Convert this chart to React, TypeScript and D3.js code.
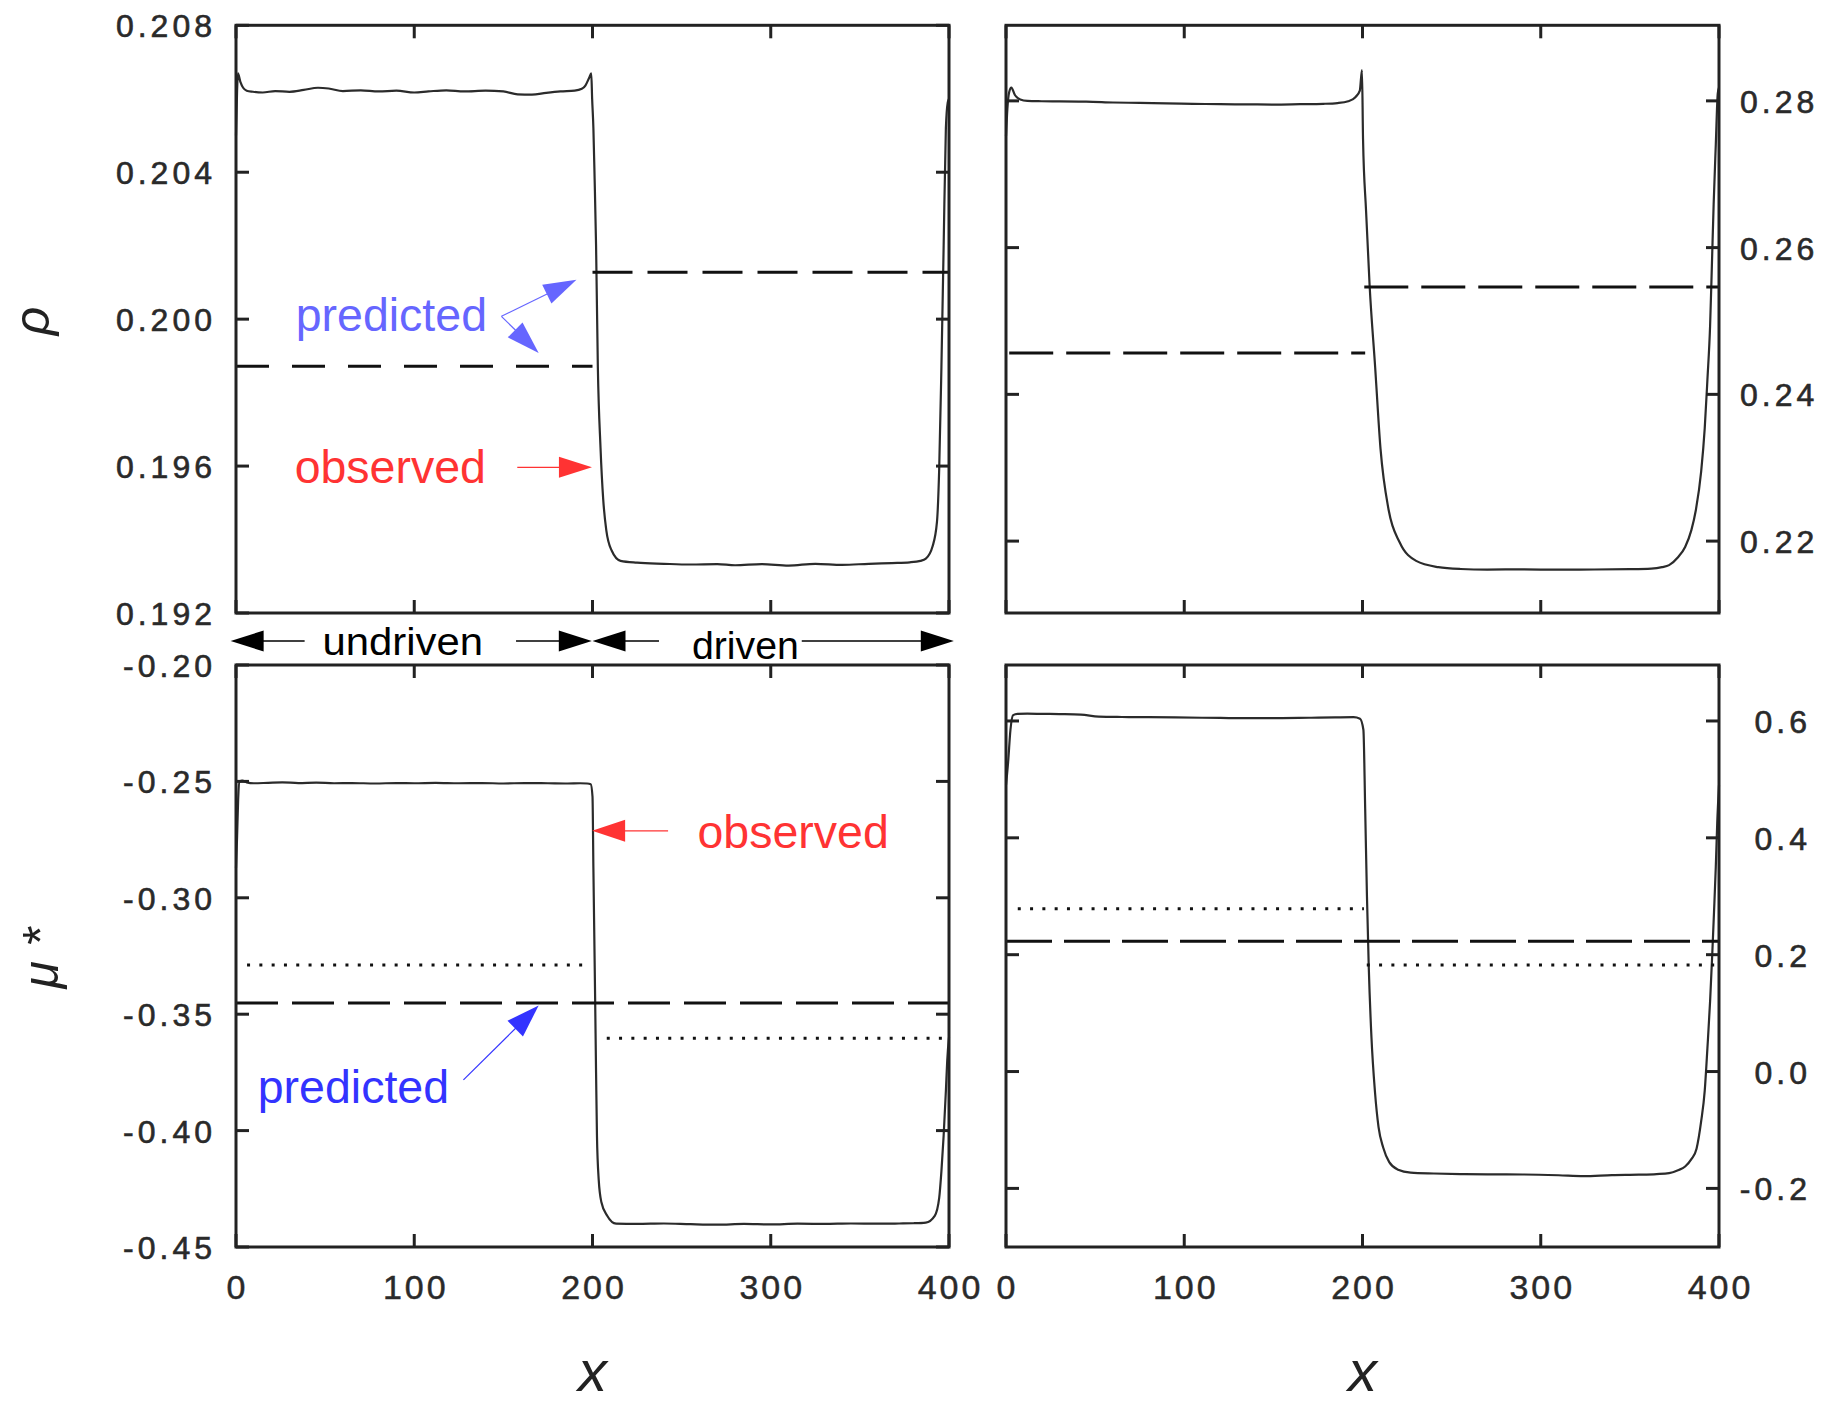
import React from "react";
import * as d3 from "d3";

type Pt = [number, number];
type Seg = [number, number, number]; // x0, x1, value

// ---------- axes / ticks ----------
const xTicks = [0, 100, 200, 300, 400];
const rhoLeftTicks = [0.192, 0.196, 0.2, 0.204, 0.208];
const rhoRightTicks = [0.22, 0.24, 0.26, 0.28];
const muLeftTicks = [-0.45, -0.4, -0.35, -0.3, -0.25, -0.2];
const muRightTicks = [-0.2, 0.0, 0.2, 0.4, 0.6];

const xDomain: Pt = [0, 400];
const rhoLeftDomain: Pt = [0.192, 0.208];
const rhoRightDomain: Pt = [0.2102, 0.2903];
const muLeftDomain: Pt = [-0.45, -0.2];
const muRightDomain: Pt = [-0.3003, 0.6958];

// ---------- observed profiles ----------
const rhoLeftObserved: Pt[] = [
  [0, 0.205], [0.6, 0.2062], [1.1, 0.20669], [2.5, 0.20645], [4, 0.2063], [6, 0.20622], [9.5, 0.20619],
  [15, 0.20617], [22, 0.20621], [30, 0.20619], [38, 0.20624], [46, 0.2063], [52, 0.20628], [60, 0.20621],
  [70, 0.20623], [80, 0.2062], [90, 0.20622], [100, 0.20617], [108, 0.2062], [118, 0.20623], [128, 0.2062],
  [140, 0.20622], [150, 0.2062], [158, 0.20612], [166, 0.20611], [174, 0.20616], [182, 0.2062], [190, 0.20622],
  [194, 0.20627], [196, 0.20636], [198.2, 0.20658], [199.3, 0.20669], [199.8, 0.206], [200.5, 0.2052],
  [201.2, 0.2038], [202, 0.202], [203, 0.1987], [204.5, 0.1965], [206, 0.1951], [207.75, 0.19425],
  [210.75, 0.1937], [215.75, 0.19342], [225, 0.19337], [240, 0.19334], [255, 0.19332], [270, 0.19333],
  [280, 0.1933], [295, 0.19333], [310, 0.19329], [325, 0.19334], [340, 0.19331], [355, 0.19334],
  [368, 0.19336], [378, 0.19338], [384, 0.19342], [387, 0.19348], [390.75, 0.19381], [393.25, 0.19448],
  [394.5, 0.19592], [395.75, 0.1987], [397, 0.202], [398.25, 0.2052], [399.3, 0.2059], [400, 0.206],
];

const rhoRightObserved: Pt[] = [
  [0, 0.2752], [0.8, 0.279], [1.8, 0.2812], [3, 0.2818], [5, 0.2808], [8, 0.2802], [12, 0.28],
  [20, 0.27995], [30, 0.27992], [45, 0.2799], [60, 0.27978], [75, 0.27972], [90, 0.27965], [105, 0.2796],
  [120, 0.27955], [135, 0.27952], [150, 0.2795], [165, 0.27955], [178, 0.2796], [186, 0.2797],
  [192, 0.27995], [196, 0.2805], [198.5, 0.2814], [199.7, 0.2842], [200.3, 0.2748], [202, 0.265],
  [204, 0.2548], [207.1, 0.2437], [210.1, 0.2326], [214.7, 0.2242], [220.9, 0.2198], [230.1, 0.2173],
  [242.5, 0.21645], [255, 0.2162], [270, 0.21612], [290, 0.21615], [310, 0.2161], [330, 0.21613],
  [350, 0.21617], [362, 0.21625], [368, 0.21645], [372, 0.21673], [377, 0.2178], [381, 0.2192],
  [384.5, 0.2215], [387, 0.2242], [390, 0.2295], [392, 0.2354], [393.5, 0.242], [395, 0.2493],
  [396, 0.2575], [397, 0.2659], [398.2, 0.274], [399.3, 0.281], [400, 0.2818],
];

const muLeftObserved: Pt[] = [
  [0, -0.2872], [0.6, -0.274], [1.2, -0.258], [2, -0.25], [3.5, -0.2497], [6, -0.2504], [10, -0.2508],
  [18, -0.2506], [26, -0.2504], [35, -0.2507], [45, -0.2505], [55, -0.2508], [65, -0.2507], [78, -0.2509],
  [90, -0.2507], [100, -0.2508], [112, -0.2506], [125, -0.2508], [138, -0.2507], [150, -0.2509],
  [162, -0.2507], [175, -0.2508], [186, -0.2509], [193, -0.2508], [197, -0.2509], [199, -0.2512],
  [200, -0.2565], [200.5, -0.2872], [201, -0.3159], [201.5, -0.3446], [202, -0.375], [202.5, -0.4021],
  [203.5, -0.4213], [205, -0.4308], [208.25, -0.4366], [213.25, -0.44], [225, -0.4401], [240, -0.4399],
  [255, -0.4402], [270, -0.4404], [285, -0.4401], [300, -0.4403], [315, -0.44], [330, -0.4401],
  [345, -0.4399], [360, -0.44], [372, -0.4399], [380, -0.4398], [387, -0.4395], [392, -0.4366],
  [394.5, -0.4289], [395.75, -0.4174], [397, -0.4021], [398.25, -0.383], [399, -0.37], [400, -0.36],
];

const muRightObserved: Pt[] = [
  [0, 0.49], [1.2, 0.53], [2.5, 0.585], [4, 0.61], [6.5, 0.6122], [12, 0.6125], [20, 0.6122], [30, 0.6118],
  [42, 0.611], [52, 0.6075], [65, 0.6068], [80, 0.6065], [95, 0.606], [110, 0.6055], [125, 0.605],
  [140, 0.6048], [155, 0.605], [170, 0.6055], [185, 0.6062], [195, 0.6065], [198.6, 0.604], [200.5, 0.585],
  [201.5, 0.45], [202.5, 0.3], [203.5, 0.18], [205, 0.06], [207, -0.035], [209, -0.095], [211.6, -0.13],
  [215, -0.155], [220, -0.168], [227, -0.173], [240, -0.1745], [255, -0.1755], [270, -0.176],
  [290, -0.1762], [310, -0.1775], [324, -0.179], [340, -0.1772], [355, -0.1765], [365, -0.1755],
  [372, -0.174], [377, -0.169], [381, -0.1626], [384.5, -0.15], [387.4, -0.132], [390, -0.085],
  [392, -0.0328], [393.5, 0.04], [395, 0.12], [396.2, 0.2], [397.2, 0.2725], [398.2, 0.35], [399, 0.425],
  [400, 0.49],
];

// ---------- predicted (dashed) and dotted levels ----------
const rhoLeftPredicted: Seg[] = [[0, 200, 0.19872], [200, 400, 0.20128]];
const rhoRightPredicted: Seg[] = [[1.8, 201.5, 0.24564], [201, 400, 0.25464]];
const muLeftPredicted: Seg[] = [[0, 400, -0.3452]];
const muLeftDotted: Seg[] = [[6.2, 198, -0.3289], [208, 398.3, -0.3603]];
const muRightPredicted: Seg[] = [[0, 400, 0.2229]];
const muRightDotted: Seg[] = [[6.6, 200.8, 0.2786], [202.4, 398, 0.1824]];

// ---------- annotations (in data units of their panel) ----------
const rhoTexts = [
  { text: "predicted", color: "#6666ff", x: 33.5, v: 0.19969 },
  { text: "observed", color: "#ff3333", x: 32.9, v: 0.19554 },
];
const rhoArrows = [
  { color: "#6666ff", from: [148.9, 0.200077] as Pt, to: [191.0, 0.201076] as Pt },
  { color: "#6666ff", from: [148.9, 0.200077] as Pt, to: [169.8, 0.199078] as Pt },
  { color: "#ff3333", from: [157.8, 0.195967] as Pt, to: [199.7, 0.195967] as Pt },
];
const muTexts = [
  { text: "predicted", color: "#3333ff", x: 12.2, v: -0.38814 },
  { text: "observed", color: "#ff3333", x: 258.9, v: -0.27852 },
];
const muArrows = [
  { color: "#3333ff", from: [127.6, -0.37822] as Pt, to: [169.8, -0.34622] as Pt },
  { color: "#ff3333", from: [242.4, -0.27122] as Pt, to: [199.8, -0.27122] as Pt },
];
const regionLabels = [
  { text: "undriven", x0: 48.5, x1: 138.6, base: 655 },
  { text: "driven", x0: 255.8, x1: 315.8, base: 659 },
];
const regionArrows: Pt[] = [[38.5, -3.0], [157.1, 199.6], [237.3, 200], [317.4, 402.7]];

// ---------- layout ----------
const W = 1822;
const H = 1403;
const LEFT: Pt = [236, 949];
const RIGHT: Pt = [1006, 1719];
const TOP: Pt = [25.3, 613];
const BOTTOM: Pt = [665, 1247];

const FONT = "'Liberation Sans', Arial, Helvetica, sans-serif";
const fmt = (p: string) => (v: number) => d3.format(p)(v).replace("\u2212", "-");

function Arrow({ x1, y1, x2, y2, color, lw, hl, hw }: any) {
  const dx = x2 - x1, dy = y2 - y1;
  const L = Math.hypot(dx, dy);
  const ux = dx / L, uy = dy / L;
  const bx = x2 - ux * hl, by = y2 - uy * hl;
  const px = -uy, py = ux;
  const pts = [
    [x2, y2],
    [bx + (px * hw) / 2, by + (py * hw) / 2],
    [bx - (px * hw) / 2, by - (py * hw) / 2],
  ];
  return (
    <g>
      <line x1={x1} y1={y1} x2={bx + ux * 2} y2={by + uy * 2} stroke={color} strokeWidth={lw} />
      <polygon points={pts.map((p) => p.join(",")).join(" ")} fill={color} />
    </g>
  );
}

function Panel({ px, py, yDomain, yTicks, format, side, labelAnchor, labelOffset, observed, dashed, dashPattern, dotted, showX }: any) {
  const x = d3.scaleLinear().domain(xDomain).range(px);
  const y = d3.scaleLinear().domain(yDomain).range([py[1], py[0]]);
  const line = d3.line<Pt>().x((d) => x(d[0])).y((d) => y(d[1])).curve(d3.curveMonotoneX);
  const TL = 13;
  return (
    <g>
      <path d={line(observed) || ""} fill="none" stroke="#2b2b2b" strokeWidth={2.2} strokeLinejoin="round" />
      {(dashed as Seg[]).map((s, i) => (
        <line key={"d" + i} x1={x(s[0])} x2={x(s[1])} y1={y(s[2])} y2={y(s[2])} stroke="#111" strokeWidth={3}
          strokeDasharray={dashPattern[i] || dashPattern[0]} />
      ))}
      {((dotted || []) as Seg[]).map((s, i) => (
        <line key={"p" + i} x1={x(s[0])} x2={x(s[1])} y1={y(s[2])} y2={y(s[2])} stroke="#111" strokeWidth={3}
          strokeDasharray="3 9.3" />
      ))}
      <rect x={px[0]} y={py[0]} width={px[1] - px[0]} height={py[1] - py[0]} fill="none" stroke="#222" strokeWidth={3} />
      {xTicks.map((t) => (
        <g key={"xt" + t}>
          <line x1={x(t)} x2={x(t)} y1={py[1]} y2={py[1] - TL} stroke="#222" strokeWidth={3} />
          <line x1={x(t)} x2={x(t)} y1={py[0]} y2={py[0] + TL} stroke="#222" strokeWidth={3} />
        </g>
      ))}
      {(yTicks as number[]).map((t) => (
        <g key={"yt" + t}>
          <line x1={px[0]} x2={px[0] + TL} y1={y(t)} y2={y(t)} stroke="#222" strokeWidth={3} />
          <line x1={px[1]} x2={px[1] - TL} y1={y(t)} y2={y(t)} stroke="#222" strokeWidth={3} />
          <text
            x={side === "left" ? px[0] - labelOffset : px[1] + labelOffset}
            y={y(t) + 12}
            textAnchor={labelAnchor}
            fontFamily={FONT}
            fontSize={32}
            letterSpacing={4}
            fill="#2a2a2a"
            stroke="#2a2a2a"
            strokeWidth={0.6}
          >
            {format(t)}
          </text>
        </g>
      ))}
      {showX &&
        xTicks.map((t) => (
          <text key={"xl" + t} x={x(t) + 1.5} y={py[1] + 52} textAnchor="middle" fontFamily={FONT} fontSize={34}
            letterSpacing={3} fill="#2a2a2a" stroke="#2a2a2a" strokeWidth={0.5}>
            {String(t)}
          </text>
        ))}
      {showX && (
        <text x={x(200)} y={1391} textAnchor="middle" fontFamily={FONT} fontStyle="italic" fontSize={58} fill="#222">
          x
        </text>
      )}
    </g>
  );
}

export default function App() {
  const xL = d3.scaleLinear().domain(xDomain).range(LEFT);
  const yTL = d3.scaleLinear().domain(rhoLeftDomain).range([TOP[1], TOP[0]]);
  const yBL = d3.scaleLinear().domain(muLeftDomain).range([BOTTOM[1], BOTTOM[0]]);
  const rowY = 641;
  return (
    <svg width={W} height={H} style={{ position: "absolute", left: 0, top: 0, background: "#fff" }}>
      <rect width={W} height={H} fill="#fff" />
      <Panel px={LEFT} py={TOP} yDomain={rhoLeftDomain} yTicks={rhoLeftTicks} format={fmt(".3f")} side="left"
        labelAnchor="end" labelOffset={20} observed={rhoLeftObserved} dashed={rhoLeftPredicted}
        dashPattern={["33 23", "40 15"]} />
      <Panel px={RIGHT} py={TOP} yDomain={rhoRightDomain} yTicks={rhoRightTicks} format={fmt(".2f")} side="right"
        labelAnchor="start" labelOffset={21} observed={rhoRightObserved} dashed={rhoRightPredicted}
        dashPattern={["44 13"]} />
      <Panel px={LEFT} py={BOTTOM} yDomain={muLeftDomain} yTicks={muLeftTicks} format={fmt(".2f")} side="left"
        labelAnchor="end" labelOffset={20} observed={muLeftObserved} dashed={muLeftPredicted}
        dashPattern={["42 14"]} dotted={muLeftDotted} showX />
      <Panel px={RIGHT} py={BOTTOM} yDomain={muRightDomain} yTicks={muRightTicks} format={fmt(".1f")} side="right"
        labelAnchor="end" labelOffset={92} observed={muRightObserved} dashed={muRightPredicted}
        dashPattern={["46 12"]} dotted={muRightDotted} showX />

      {/* y-axis titles */}
      <text transform="translate(38,321) rotate(-90)" y={11} textAnchor="middle" fontFamily={FONT}
        fontStyle="italic" fontSize={50} fill="#222">
        ρ
      </text>
      <text transform="translate(45,958) rotate(-90)" y={13} textAnchor="middle" fontFamily={FONT}
        fontStyle="italic" fontSize={50} fill="#222">
        μ *
      </text>

      {/* annotations: rho panel */}
      {rhoTexts.map((a) => (
        <text key={a.text} x={xL(a.x)} y={yTL(a.v)} fontFamily={FONT} fontSize={46.5} fill={a.color}>
          {a.text}
        </text>
      ))}
      {rhoArrows.map((a, i) => (
        <Arrow key={"ra" + i} x1={xL(a.from[0])} y1={yTL(a.from[1])} x2={xL(a.to[0])} y2={yTL(a.to[1])}
          color={a.color} lw={1.2} hl={33} hw={21} />
      ))}
      {/* annotations: mu panel */}
      {muTexts.map((a) => (
        <text key={a.text} x={xL(a.x)} y={yBL(a.v)} fontFamily={FONT} fontSize={46.5} fill={a.color}>
          {a.text}
        </text>
      ))}
      {muArrows.map((a, i) => (
        <Arrow key={"ma" + i} x1={xL(a.from[0])} y1={yBL(a.from[1])} x2={xL(a.to[0])} y2={yBL(a.to[1])}
          color={a.color} lw={1.2} hl={33} hw={22} />
      ))}

      {/* undriven / driven row */}
      {regionLabels.map((r) => (
        <text key={r.text} x={xL(r.x0)} y={r.base} fontFamily={FONT} fontSize={39}
          textLength={xL(r.x1) - xL(r.x0)} lengthAdjust="spacingAndGlyphs" fill="#000">
          {r.text}
        </text>
      ))}
      {regionArrows.map((a, i) => (
        <Arrow key={"rg" + i} x1={xL(a[0])} y1={rowY} x2={xL(a[1])} y2={rowY} color="#000" lw={1.4} hl={33} hw={21} />
      ))}
    </svg>
  );
}
